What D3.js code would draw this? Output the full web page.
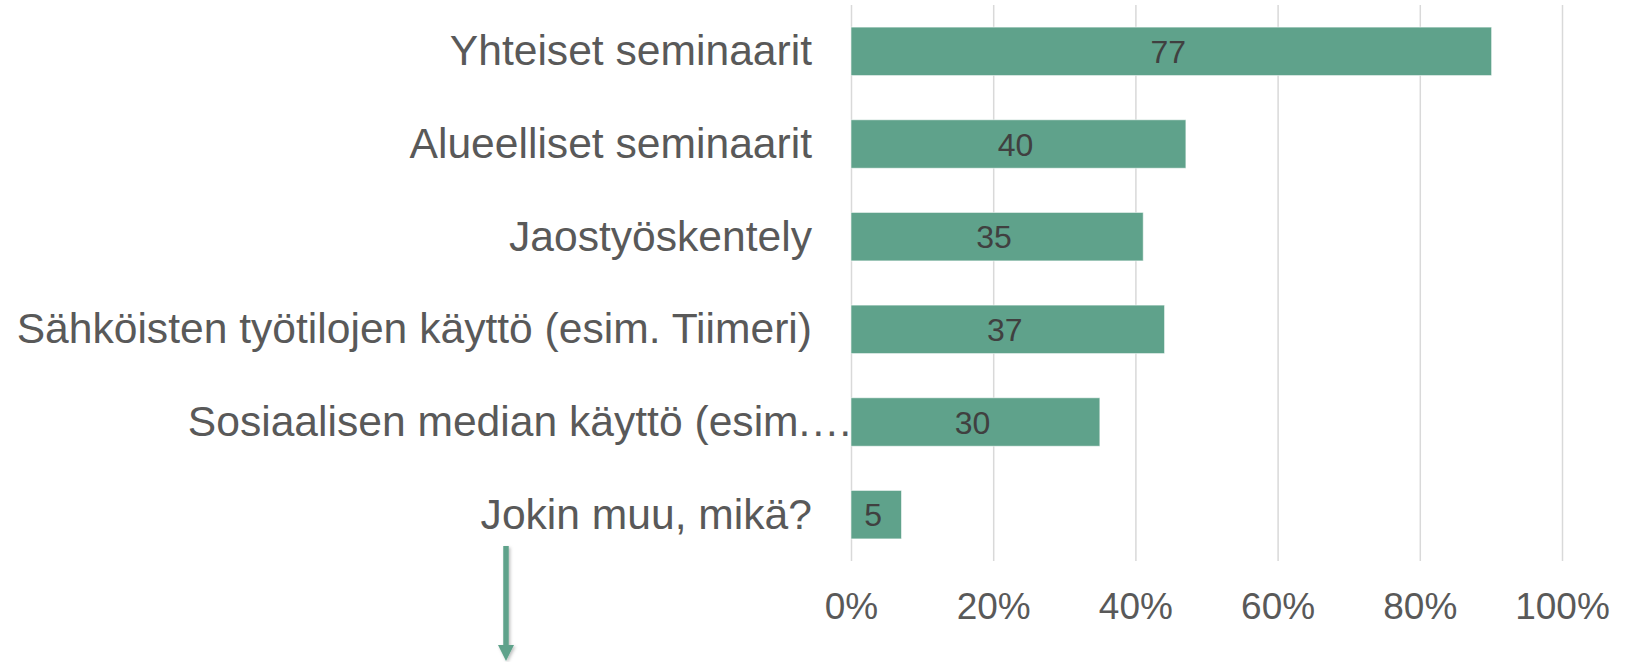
<!DOCTYPE html>
<html>
<head>
<meta charset="utf-8">
<script src="https://cdn.jsdelivr.net/npm/d3@7"></script>
<style>
    html, body { margin: 0; padding: 0; background: #fff; }
    svg { display: block; font-family: "Liberation Sans", Arial, sans-serif; }
</style>
</head>
<body>
<script>
// categories, top to bottom
const categories = [
    "Yhteiset seminaarit",
    "Alueelliset seminaarit",
    "Jaostyöskentely",
    "Sähköisten työtilojen käyttö (esim. Tiimeri)",
    "Sosiaalisen median käyttö (esim.…",
    "Jokin muu, mikä?"
];
// bar length, share of respondents (%)
const shares = [90.1, 47.1, 41.1, 44.1, 35.0, 7.1];
// label printed inside each bar (number of answers)
const counts = [77, 40, 35, 37, 30, 5];
const tickValues = [0, 20, 40, 60, 80, 100];

const W = 1628, H = 662;
const margin = {top: 5, left: 851, right: 66, bottom: 101};
const barColor = "#5fa28b";

const svg = d3.select("body").append("svg")
    .attr("width", W)
    .attr("height", H);

const defs = svg.append("defs");
const shadow = defs.append("filter").attr("id", "shadow")
    .attr("x", "-50%").attr("y", "-10%").attr("width", "200%").attr("height", "130%");
shadow.append("feDropShadow")
    .attr("dx", 1.5).attr("dy", 1.5).attr("stdDeviation", 1.5)
    .attr("flood-color", "#000").attr("flood-opacity", 0.25);

const x = d3.scaleLinear()
    .domain([0, 100])
    .range([margin.left, W - margin.right]);

const y = d3.scaleBand()
    .domain(categories)
    .range([margin.top, H - margin.bottom])
    .paddingInner(0.477)
    .paddingOuter(0.2385);

const bottom = H - margin.bottom;

// gridlines
const grid = svg.append("g")
    .attr("transform", "translate(0," + bottom + ")")
    .call(d3.axisBottom(x).tickValues(tickValues).tickSize(-(bottom - margin.top)).tickFormat(""));
grid.select(".domain").remove();
grid.selectAll("line").attr("stroke", "#d9d9d9").attr("stroke-width", 1.5);

// x axis labels
const xAxis = svg.append("g")
    .attr("transform", "translate(0," + bottom + ")")
    .call(d3.axisBottom(x).tickValues(tickValues).tickSize(0).tickFormat(d => d + "%"));
xAxis.select(".domain").remove();
xAxis.selectAll("text")
    .attr("y", 58)
    .attr("dy", 0)
    .attr("fill", "#595959")
    .style("font-size", "37px")
    .style("font-family", "'Liberation Sans', Arial, sans-serif");

// bars
const rows = categories.map((c, i) => ({cat: c, share: shares[i], count: counts[i]}));

svg.append("g").selectAll("rect")
    .data(rows)
    .enter().append("rect")
    .attr("x", x(0))
    .attr("y", d => y(d.cat))
    .attr("width", d => x(d.share) - x(0))
    .attr("height", y.bandwidth())
    .attr("fill", barColor)
    .attr("stroke", "rgba(255,255,255,0.55)")
    .attr("stroke-width", 1);

// value labels
svg.append("g").selectAll("text")
    .data(rows)
    .enter().append("text")
    .attr("x", d => (x(0) + x(d.share)) / 2 - 3)
    .attr("y", d => y(d.cat) + y.bandwidth() / 2 + 11.5)
    .attr("text-anchor", "middle")
    .attr("fill", "#404040")
    .style("font-size", "32px")
    .text(d => d.count);

// category labels
const yAxis = svg.append("g")
    .attr("transform", "translate(" + x(0) + ",0)")
    .call(d3.axisLeft(y).tickSize(0).tickPadding(39));
yAxis.select(".domain").remove();
yAxis.selectAll("text")
    .attr("fill", "#595959")
    .attr("dy", "0.33em")
    .style("font-size", "42.6px")
    .style("font-family", "'Liberation Sans', Arial, sans-serif")
    .filter(d => d.endsWith("…"))
    .attr("x", 2);

// arrow below the last label
const arrow = svg.append("g").attr("filter", "url(#shadow)");
arrow.append("line")
    .attr("x1", 506).attr("x2", 506)
    .attr("y1", 546).attr("y2", 647)
    .attr("stroke", barColor)
    .attr("stroke-width", 5.5);
arrow.append("path")
    .attr("d", "M498,645 L514,645 L506,661 Z")
    .attr("fill", barColor);
</script>
</body>
</html>
